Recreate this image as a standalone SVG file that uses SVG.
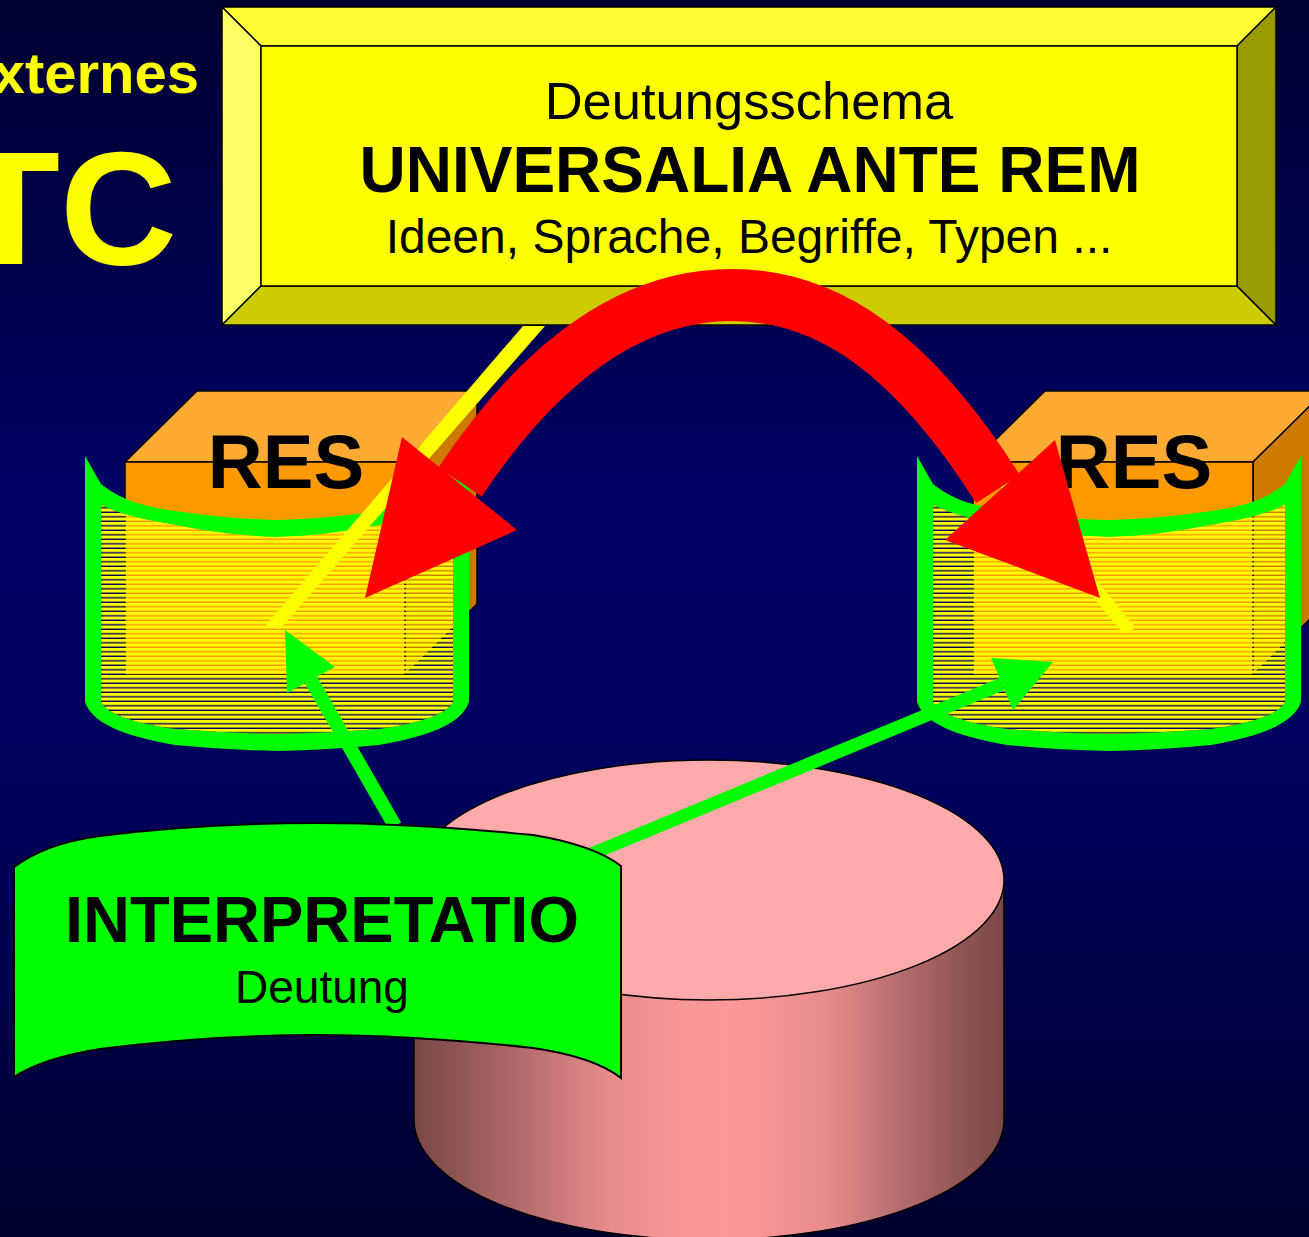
<svg xmlns="http://www.w3.org/2000/svg" width="1309" height="1237" viewBox="0 0 1309 1237">
  <defs>
    <linearGradient id="bg" x1="0" y1="0" x2="0" y2="1">
      <stop offset="0" stop-color="#000030"/>
      <stop offset="0.4" stop-color="#000064"/>
      <stop offset="0.65" stop-color="#00005C"/>
      <stop offset="1" stop-color="#00002C"/>
    </linearGradient>
    <linearGradient id="cylSide" gradientUnits="userSpaceOnUse" x1="414" y1="0" x2="1004" y2="0">
      <stop offset="0" stop-color="#784646"/>
      <stop offset="0.15" stop-color="#A86464"/>
      <stop offset="0.33" stop-color="#E88C8C"/>
      <stop offset="0.52" stop-color="#FF9999"/>
      <stop offset="0.7" stop-color="#E88C8C"/>
      <stop offset="0.86" stop-color="#A86464"/>
      <stop offset="1" stop-color="#784646"/>
    </linearGradient>
    <pattern id="stripes" patternUnits="userSpaceOnUse" width="20" height="4.5">
      <rect x="0" y="0" width="20" height="3.1" fill="#FFFF00"/>
    </pattern>
  </defs>
  <style>
    .ol { stroke: #000; stroke-width: 1.5; stroke-linejoin: miter; }
    .txt { font-family: "Liberation Sans", Arial, sans-serif; }
    .b { font-weight: bold; }
    .ylw { fill: #FFFF00; }
    .grn { fill: #00FF00; }
    .gline { stroke: #00FF00; fill: none; stroke-linecap: butt; }
  </style>

  <rect x="0" y="0" width="1309" height="1237" fill="url(#bg)"/>

  <g id="title">
    <text class="txt b ylw" x="199" y="93" font-size="58" text-anchor="end">xternes</text>
    <text class="txt b ylw" x="-39" y="264" font-size="162">TC</text>
  </g>

  <g id="universalia">
    <polygon class="ol" points="222,7 1276,7 1237,46 261,46" fill="#FFFF33"/>
    <polygon class="ol" points="222,7 261,46 261,286 222,325" fill="#FFFF66"/>
    <polygon class="ol" points="222,325 261,286 1237,286 1276,325" fill="#CCCC00"/>
    <polygon class="ol" points="1276,7 1276,325 1237,286 1237,46" fill="#999900"/>
    <rect class="ol" x="261" y="46" width="976" height="240" fill="#FFFF00"/>
    <text class="txt" x="749" y="119" font-size="52.5" text-anchor="middle">Deutungsschema</text>
    <text class="txt b" x="750" y="192" font-size="64" text-anchor="middle">UNIVERSALIA ANTE REM</text>
    <text class="txt" x="749" y="253" font-size="48" text-anchor="middle">Ideen, Sprache, Begriffe, Typen ...</text>
  </g>

  <g id="res-left">
    <polygon class="ol" points="125,462 197,391 477,391 405,462" fill="#FFAA33"/>
    <polygon class="ol" points="405,462 477,391 477,604 405,675" fill="#CC7A00"/>
    <rect class="ol" x="125" y="462" width="280" height="213" fill="#FF9900"/>
    <text class="txt b" x="286" y="488" font-size="76" text-anchor="middle">RES</text>
  </g>

  <g id="res-right">
    <polygon class="ol" points="973,462 1045,391 1325,391 1253,462" fill="#FFAA33"/>
    <polygon class="ol" points="1253,462 1325,391 1325,604 1253,675" fill="#CC7A00"/>
    <rect class="ol" x="973" y="462" width="280" height="213" fill="#FF9900"/>
    <text class="txt b" x="1134" y="488" font-size="76" text-anchor="middle">RES</text>
  </g>

  <g id="band-left">
    <path class="grn" fill-rule="evenodd" d="M85,456 L101,484 C120,499 140,506 175,511 Q230,519 277,520 Q324,519 379,511 C414,506 434,499 453,484 L469,456 L469,702 C463,720 438,735 379,745 Q329,750 277,751 Q225,750 175,745 C116,735 91,720 85,702 Z M101,505 C120,514 140,519 175,525 Q230,536 277,537 Q324,536 379,525 C414,519 434,514 453,505 L453,702 C448,712 428,722 379,729 Q329,733 277,734 Q225,733 175,729 C126,722 106,712 101,702 Z"/>
    <path fill="url(#stripes)" d="M101,505 C120,514 140,519 175,525 Q230,536 277,537 Q324,536 379,525 C414,519 434,514 453,505 L453,702 C448,712 428,722 379,729 Q329,733 277,734 Q225,733 175,729 C126,722 106,712 101,702 Z"/>
  </g>

  <g id="band-right" transform="translate(832,0)">
    <path class="grn" fill-rule="evenodd" d="M85,456 L101,484 C120,499 140,506 175,511 Q230,519 277,520 Q324,519 379,511 C414,506 434,499 453,484 L469,456 L469,702 C463,720 438,735 379,745 Q329,750 277,751 Q225,750 175,745 C116,735 91,720 85,702 Z M101,505 C120,514 140,519 175,525 Q230,536 277,537 Q324,536 379,525 C414,519 434,514 453,505 L453,702 C448,712 428,722 379,729 Q329,733 277,734 Q225,733 175,729 C126,722 106,712 101,702 Z"/>
    <path fill="url(#stripes)" d="M101,505 C120,514 140,519 175,525 Q230,536 277,537 Q324,536 379,525 C414,519 434,514 453,505 L453,702 C448,712 428,722 379,729 Q329,733 277,734 Q225,733 175,729 C126,722 106,712 101,702 Z"/>
  </g>

  <g id="cylinder">
    <path class="ol" fill="url(#cylSide)" d="M414,882 L414,1120 A295,120 0 0 0 1004,1120 L1004,882 Z"/>
    <ellipse class="ol" cx="709" cy="880" rx="295" ry="120" fill="#FFAAAA"/>
  </g>

  <g id="connectors">
    <polygon class="ylw" points="523,326 545,326 280,629 266,625"/>
    <polygon class="ylw" points="866,326 886,326 1136,628 1123,633"/>
    <path d="M460,482 C545,355 635,295 732,295 C829,295 913,355 998,489" fill="none" stroke="#FF0000" stroke-width="52"/>
    <polygon points="365,598 402,437 517,530" fill="#FF0000"/>
    <polygon points="1100,598 945,540 1055,440" fill="#FF0000"/>
    <line class="gline" x1="395" y1="826" x2="311" y2="680" stroke-width="14"/>
    <polygon class="grn" points="285,630 335,667 287,693"/>
    <line class="gline" x1="560" y1="867" x2="1002" y2="684" stroke-width="13"/>
    <polygon class="grn" points="1053,662 991,658 1013,710"/>
  </g>

  <g id="interpretatio">
    <path class="grn" stroke="#000" stroke-width="2" d="M14,867 C34,852 62,841 100,836 C170,827 245,823 318,823 C390,823 460,828 533,835 C575,842 603,852 621,866 L621,1078 C603,1064 575,1054 533,1048 C460,1040 390,1035 318,1035 C245,1035 170,1040 100,1049 C62,1055 34,1064 14,1077 Z"/>
    <text class="txt b" x="322" y="942" font-size="65" text-anchor="middle">INTERPRETATIO</text>
    <text class="txt" x="322" y="1003" font-size="46" text-anchor="middle">Deutung</text>
  </g>
</svg>
